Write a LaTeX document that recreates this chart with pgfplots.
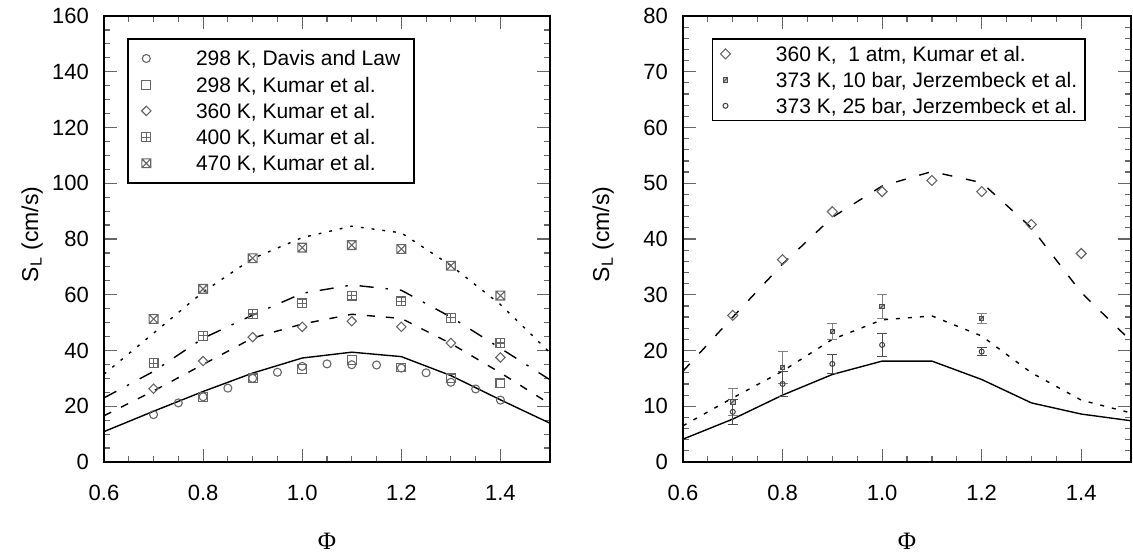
\documentclass[border=0pt]{standalone}
\usepackage{fontspec}
\setmainfont{Liberation Sans}
\newfontfamily\phifont{Liberation Serif}
\usepackage{pgfplots}
\pgfplotsset{compat=1.18}

\pgfdeclareplotmark{sqplus}{%
  \pgfpathrectangle{\pgfqpoint{-\pgfplotmarksize}{-\pgfplotmarksize}}{\pgfqpoint{2\pgfplotmarksize}{2\pgfplotmarksize}}%
  \pgfpathmoveto{\pgfqpoint{-\pgfplotmarksize}{0pt}}\pgfpathlineto{\pgfqpoint{\pgfplotmarksize}{0pt}}%
  \pgfpathmoveto{\pgfqpoint{0pt}{-\pgfplotmarksize}}\pgfpathlineto{\pgfqpoint{0pt}{\pgfplotmarksize}}%
  \pgfusepathqstroke}
\pgfdeclareplotmark{sqcross}{%
  \pgfpathrectangle{\pgfqpoint{-\pgfplotmarksize}{-\pgfplotmarksize}}{\pgfqpoint{2\pgfplotmarksize}{2\pgfplotmarksize}}%
  \pgfpathmoveto{\pgfqpoint{-\pgfplotmarksize}{-\pgfplotmarksize}}\pgfpathlineto{\pgfqpoint{\pgfplotmarksize}{\pgfplotmarksize}}%
  \pgfpathmoveto{\pgfqpoint{-\pgfplotmarksize}{\pgfplotmarksize}}\pgfpathlineto{\pgfqpoint{\pgfplotmarksize}{-\pgfplotmarksize}}%
  \pgfusepathqstroke}
\pgfdeclareplotmark{sqdiag}{%
  \pgfpathrectangle{\pgfqpoint{-\pgfplotmarksize}{-\pgfplotmarksize}}{\pgfqpoint{2\pgfplotmarksize}{2\pgfplotmarksize}}%
  \pgfusepathqfillstroke
  \pgfpathmoveto{\pgfqpoint{-\pgfplotmarksize}{-\pgfplotmarksize}}\pgfpathlineto{\pgfqpoint{\pgfplotmarksize}{\pgfplotmarksize}}%
  \pgfusepathqstroke}

\pgfplotsset{
  common/.style={
    scale only axis, height=223pt,
    xmin=0.6, xmax=1.5, ymin=0,
    xtick={0.6,0.8,1.0,1.2,1.4}, xticklabels={0.6,0.8,1.0,1.2,1.4},
    minor x tick num=3,
    tick align=inside, tick pos=both,
    major tick length=6.5pt, minor tick length=3.2pt,
    tick style={black!60, line width=0.6pt},
    axis line style={line width=1pt},
    tick label style={font=\fontsize{11}{13}\selectfont},
    xticklabel style={yshift=-8pt},
    yticklabel style={xshift=-4pt},
    xlabel={\phifont Φ},
    xlabel style={anchor=center, font=\fontsize{12.5}{14}\selectfont},
    ylabel={S\textsubscript{L} (cm/s)},
    ylabel style={anchor=center, rotate=0, font=\fontsize{11.5}{13}\selectfont},
    legend cell align=left,
    legend image code/.code={\draw[#1] plot coordinates {(0pt,0pt)};},
    legend style={anchor=north west, draw=black, line width=0.8pt, fill=white,
      font=\fontsize{10.5}{12}\selectfont,
      nodes={inner sep=0pt, text height=7.5pt, text depth=0pt}},
  },
  mk/.style={only marks, mark=#1, mark options={draw=black!60, fill=white, line width=0.55pt, solid}},
}

\begin{document}
\begin{tikzpicture}
\useasboundingbox (-52pt,-47pt) rectangle (514.5pt,231pt);

% ---------------- left panel ----------------
\begin{axis}[common, at={(0pt,0pt)}, anchor=south west, width=223pt,
  ymax=160, ytick={0,20,40,60,80,100,120,140,160},
  yticklabels={0,20,40,60,80,100,120,140,160}, minor y tick num=3,
  xlabel style={at={(axis description cs:0.5,-0.177)}},
  ylabel style={at={(axis description cs:-0.161,0.51)}},
  legend style={at={(axis description cs:0.0516,0.9507)}, inner xsep=6.9pt, inner ysep=6.1pt,
    row sep=5.6pt, /tikz/every odd column/.append style={column sep=22.5pt}}]

\addplot[black, line width=0.7pt, forget plot] coordinates {
(0.6,10.9) (0.7,18.2) (0.8,25.3) (0.9,31.9) (1.0,37.3) (1.1,39.4) (1.2,37.8) (1.3,31.0) (1.4,22.3) (1.5,13.9)};
\addplot[black, line width=0.7pt, dash pattern=on 4pt off 5.5pt, forget plot] coordinates {
(0.6,16.6) (0.7,25.5) (0.8,35.0) (0.9,44.5) (1.0,49.5) (1.1,53.0) (1.2,51.5) (1.3,42.5) (1.4,32.0) (1.5,20.8)};
\addplot[black, line width=0.7pt, dash pattern=on 7pt off 6pt on 1.2pt off 6pt, forget plot] coordinates {
(0.6,23.0) (0.7,32.5) (0.8,44.4) (0.9,52.7) (1.0,60.5) (1.1,63.5) (1.2,61.6) (1.3,52.0) (1.4,40.8) (1.5,29.5)};
\addplot[black, line width=0.7pt, dash pattern=on 1.4pt off 4pt, forget plot] coordinates {
(0.6,31.5) (0.7,46.2) (0.8,61.0) (0.9,73.0) (1.0,80.5) (1.1,84.6) (1.2,82.2) (1.3,70.5) (1.4,56.5) (1.5,39.2)};

\addplot[mk=o, mark size=2pt, mark options={draw=black!60, fill=none, line width=0.55pt, solid}] coordinates {
(0.7,17.0) (0.75,21.2) (0.8,23.4) (0.85,26.5) (0.9,30.0) (0.95,32.2) (1.0,34.3) (1.05,35.2)
(1.1,34.9) (1.15,34.8) (1.2,33.7) (1.25,32.0) (1.3,28.6) (1.35,26.2) (1.4,22.2)};
\addlegendentry{298 K, Davis and Law}
\addplot[mk=square, mark size=2.2pt, mark options={draw=black!60, fill=none, line width=0.55pt, solid}] coordinates {
(0.8,23.4) (0.9,30.0) (1.0,33.4) (1.1,36.7) (1.2,33.9) (1.3,30.0) (1.4,28.2)};
\addlegendentry{298 K, Kumar et al.}
\addplot[mk=square, mark size=1.66pt, mark options={draw=black!60, fill=none, line width=0.55pt, solid, rotate=45}] coordinates {
(0.7,26.3) (0.8,36.2) (0.9,44.8) (1.0,48.5) (1.1,50.5) (1.2,48.5) (1.3,42.7) (1.4,37.5)};
\addlegendentry{360 K, Kumar et al.}
\addplot[mk=sqplus, mark size=2.2pt, mark options={draw=black!60, fill=none, line width=0.55pt, solid}] coordinates {
(0.7,35.4) (0.8,45.3) (0.9,53.1) (1.0,56.9) (1.1,59.7) (1.2,57.6) (1.3,51.7) (1.4,42.7)};
\addlegendentry{400 K, Kumar et al.}
\addplot[mk=sqcross, mark size=2.2pt, mark options={draw=black!60, fill=none, line width=0.55pt, solid}] coordinates {
(0.7,51.3) (0.8,62.1) (0.9,73.1) (1.0,76.9) (1.1,77.8) (1.2,76.4) (1.3,70.4) (1.4,59.7)};
\addlegendentry{470 K, Kumar et al.}
\end{axis}

% ---------------- right panel ----------------
\begin{axis}[common, at={(289.5pt,0pt)}, anchor=south west, width=224pt,
  ymax=80, ytick={0,10,20,30,40,50,60,70,80},
  yticklabels={0,10,20,30,40,50,60,70,80}, minor y tick num=4,
  xlabel style={at={(axis description cs:0.5,-0.177)}},
  ylabel style={at={(axis description cs:-0.178,0.51)}},
  legend style={at={(axis description cs:0.064,0.95)}, inner xsep=4pt, inner ysep=3.6pt,
    row sep=5.5pt, /tikz/every odd column/.append style={column sep=22.75pt}}]

\addplot[black, line width=0.7pt, forget plot] coordinates {
(0.6,4.1) (0.7,7.7) (0.8,12.0) (0.9,15.7) (1.0,18.1) (1.1,18.1) (1.2,14.8) (1.3,10.6) (1.4,8.6) (1.5,7.4)};
\addplot[black, line width=0.7pt, dash pattern=on 2pt off 4pt, forget plot] coordinates {
(0.6,6.5) (0.7,11.5) (0.8,16.3) (0.9,22.0) (1.0,25.5) (1.1,26.2) (1.2,22.6) (1.3,16.0) (1.4,11.1) (1.5,8.8)};
\addplot[black, line width=0.7pt, dash pattern=on 5pt off 7pt, forget plot] coordinates {
(0.6,16.3) (0.7,26.0) (0.8,35.5) (0.9,43.9) (1.0,49.5) (1.1,52.1) (1.2,50.1) (1.3,42.0) (1.4,30.4) (1.5,21.7)};

\addplot[mk=square, mark size=1.77pt, mark options={draw=black!60, fill=white, line width=0.55pt, solid, rotate=45}] coordinates {
(0.7,26.3) (0.8,36.3) (0.9,44.9) (1.0,48.5) (1.1,50.5) (1.2,48.5) (1.3,42.6) (1.4,37.4)};
\addlegendentry{360 K,\ \ 1 atm, Kumar et al.}
\addplot[mk=sqdiag, mark size=1.1pt, mark options={draw=black!70, fill=black!25, line width=0.45pt, solid},
  error bars/.cd, y dir=both, y explicit,
  error bar style={line width=0.55pt, draw=black!50},
  error mark options={rotate=90, mark size=2.5pt, line width=0.55pt, draw=black!50}] coordinates {
(0.7,10.8) +- (0,2.4)
(0.8,17.0) +- (0,2.9)
(0.9,23.4) +- (0,1.4)
(1.0,27.9) +- (0,2.1)
(1.2,25.8) +- (0,0.9)};
\addlegendentry{373 K, 10 bar, Jerzembeck et al.}
\addplot[mk=o, mark size=1.25pt, mark options={draw=black!75, fill=white, line width=0.5pt, solid},
  error bars/.cd, y dir=both, y explicit,
  error bar style={line width=0.55pt, draw=black!70},
  error mark options={rotate=90, mark size=2.5pt, line width=0.55pt, draw=black!70}] coordinates {
(0.7,9.0) +- (0,2.2)
(0.8,14.0) +- (0,2.2)
(0.9,17.6) +- (0,1.7)
(1.0,21.0) +- (0,2.1)
(1.2,19.8) +- (0,0.7)};
\addlegendentry{373 K, 25 bar, Jerzembeck et al.}
\end{axis}
\end{tikzpicture}
\end{document}
